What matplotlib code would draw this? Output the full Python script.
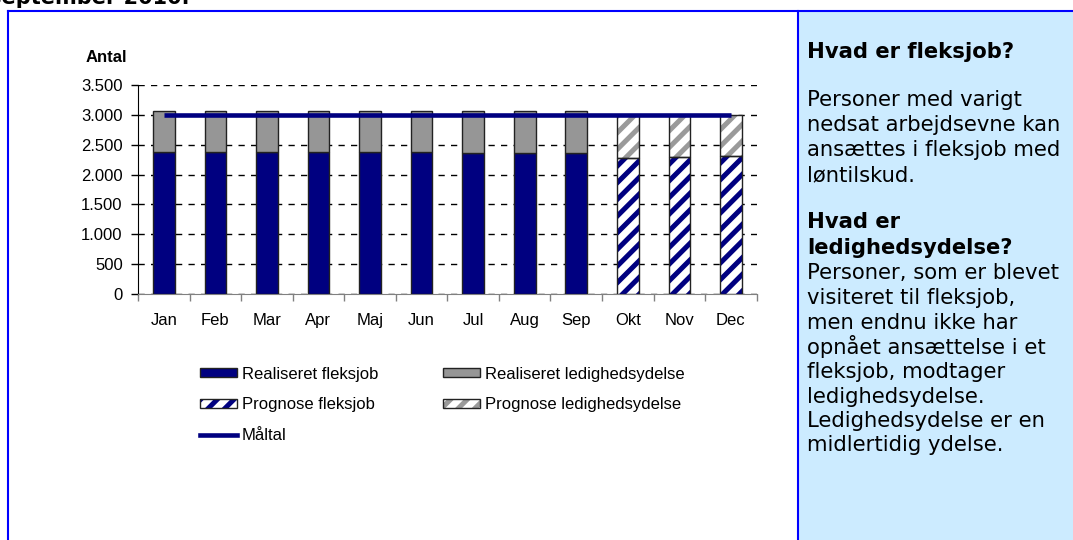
import matplotlib
matplotlib.use("Agg")
import matplotlib.pyplot as plt
import matplotlib.ticker as mticker
from matplotlib.patches import Patch, Rectangle
from matplotlib.lines import Line2D
from matplotlib.legend_handler import HandlerTuple

# ---------------- data ----------------
months = ["Jan", "Feb", "Mar", "Apr", "Maj", "Jun", "Jul", "Aug", "Sep", "Okt", "Nov", "Dec"]
real_fleks = [2385, 2385, 2385, 2380, 2380, 2380, 2360, 2358, 2358]
real_ledig = [680, 680, 680, 685, 685, 685, 705, 707, 707]
prog_fleks = [2284, 2296, 2318]
prog_ledig = [716, 704, 682]
maaltal = [3000] * 12
yticks = [0, 500, 1000, 1500, 2000, 2500, 3000, 3500]

W, H = 1073, 540
NAVY = "#000080"
GREY = "#969696"
GREY_HATCH = "#9a9a9a"
HATCH = "//"

plt.rcParams["hatch.linewidth"] = 3.6
fig = plt.figure(figsize=(W / 100, H / 100), dpi=100)

def fx(px):
    return px / W

def fy(py):
    return 1 - py / H

# right info panel background
fig.patches.append(Rectangle((fx(798), 0), 1 - fx(798), fy(11), transform=fig.transFigure,
                             facecolor="#CCEBFF", edgecolor="none", zorder=0))
# blue frame lines
fig.add_artist(Line2D([fx(8), 1], [fy(11), fy(11)], color="#0000FF", lw=1.5, transform=fig.transFigure))
fig.add_artist(Line2D([fx(8), fx(8)], [0, fy(11)], color="#0000FF", lw=1.5, transform=fig.transFigure))
fig.add_artist(Line2D([fx(798), fx(798)], [0, fy(11)], color="#0000FF", lw=1.5, transform=fig.transFigure))

# clipped title at top (cut off in the reference as well)
fig.text(fx(-11), fy(4), "september 2010.", fontsize=15, fontweight="bold",
         family="DejaVu Sans", ha="left", va="baseline")

# ---------------- chart ----------------
ax = fig.add_axes([fx(138), fy(293.7), fx(756.7) - fx(138), fy(85.3) - fy(293.7)])
ax.set_facecolor("none")
n_real = len(real_fleks)
x_real = list(range(n_real))
x_prog = list(range(n_real, len(months)))
bw = 0.42

ax.bar(x_real, real_fleks, width=bw, color=NAVY, edgecolor="#222222", linewidth=1, zorder=3)
ax.bar(x_real, real_ledig, width=bw, bottom=real_fleks, color=GREY, edgecolor="#222222",
       linewidth=1, zorder=3)

ax.bar(x_prog, prog_fleks, width=bw, color="white", edgecolor=NAVY, hatch=HATCH, linewidth=0, zorder=3)
ax.bar(x_prog, prog_fleks, width=bw, fill=False, edgecolor="#222222", linewidth=1, zorder=3.5)
ax.bar(x_prog, prog_ledig, width=bw, bottom=prog_fleks, color="white", edgecolor=GREY_HATCH,
       hatch=HATCH, linewidth=0, zorder=3)
ax.bar(x_prog, prog_ledig, width=bw, bottom=prog_fleks, fill=False, edgecolor="#222222",
       linewidth=1, zorder=3.5)

ax.plot(range(len(months)), maaltal, color=NAVY, lw=3.3, zorder=4, solid_capstyle="butt")

ax.set_xlim(-0.5, len(months) - 0.5)
ax.set_ylim(0, 3500)
ax.set_yticks(yticks)
ax.yaxis.set_major_formatter(mticker.FuncFormatter(lambda v, p: f"{int(v):,}".replace(",", ".")))
ax.yaxis.grid(True, linestyle=(0, (4.5, 4.5)), color="black", lw=1, zorder=1)
ax.set_axisbelow(True)

ax.set_xticks([i - 0.5 for i in range(len(months) + 1)])
ax.set_xticklabels([])
ax.set_xticks(range(len(months)), minor=True)
ax.set_xticklabels(months, minor=True)
ax.tick_params(axis="x", which="major", length=5, color="#808080", width=1)
ax.tick_params(axis="x", which="minor", length=0, pad=14)
ax.tick_params(axis="y", length=5, width=1, pad=6)
for lab in ax.get_xticklabels(minor=True) + ax.get_yticklabels():
    lab.set_family("Liberation Sans")
    lab.set_fontsize(12)

for s in ["top", "right"]:
    ax.spines[s].set_visible(False)
ax.spines["bottom"].set_color("#808080")
ax.spines["left"].set_color("black")

fig.text(fx(127), fy(58), "Antal", fontsize=12, fontweight="bold", family="Liberation Sans",
         ha="right", va="center")

# ---------------- legend ----------------
h_rf = Patch(facecolor=NAVY, edgecolor="#222222", lw=1)
h_rl = Patch(facecolor=GREY, edgecolor="#222222", lw=1)
h_pf = (Patch(facecolor="white", edgecolor=NAVY, hatch=HATCH, lw=0),
        Patch(fill=False, edgecolor="#222222", lw=1))
h_pl = (Patch(facecolor="white", edgecolor=GREY_HATCH, hatch=HATCH, lw=0),
        Patch(fill=False, edgecolor="#222222", lw=1))
h_m = Line2D([], [], color=NAVY, lw=3.3)
handles = [h_rf, h_pf, h_m, h_rl, h_pl]
labels = ["Realiseret fleksjob", "Prognose fleksjob", "Måltal",
          "Realiseret ledighedsydelse", "Prognose ledighedsydelse"]
fig.legend(handles, labels, ncol=2, loc="upper left", bbox_to_anchor=(fx(200), fy(366.5)),
           frameon=False, borderaxespad=0, borderpad=0, handlelength=2.2, handleheight=0.5,
           handletextpad=0.3, columnspacing=3.9, labelspacing=0.95,
           prop={"family": "Liberation Sans", "size": 12},
           handler_map={tuple: HandlerTuple(ndivide=1, pad=0)})

# ---------------- info panel text ----------------
panel_lines = [
    (52, "Hvad er fleksjob?", True),
    (100, "Personer med varigt", False),
    (125, "nedsat arbejdsevne kan", False),
    (150, "ansættes i fleksjob med", False),
    (175, "løntilskud.", False),
    (222, "Hvad er", True),
    (248, "ledighedsydelse?", True),
    (273, "Personer, som er blevet", False),
    (298, "visiteret til fleksjob,", False),
    (323, "men endnu ikke har", False),
    (347, "opnået ansættelse i et", False),
    (372, "fleksjob, modtager", False),
    (397, "ledighedsydelse.", False),
    (421, "Ledighedsydelse er en", False),
    (445, "midlertidig ydelse.", False),
]
for py, txt, bold in panel_lines:
    fig.text(fx(807), fy(py), txt, fontsize=15.2, family="DejaVu Sans",
             fontweight="bold" if bold else "normal", ha="left", va="center", color="black")

fig.savefig("out.png", dpi=100)
